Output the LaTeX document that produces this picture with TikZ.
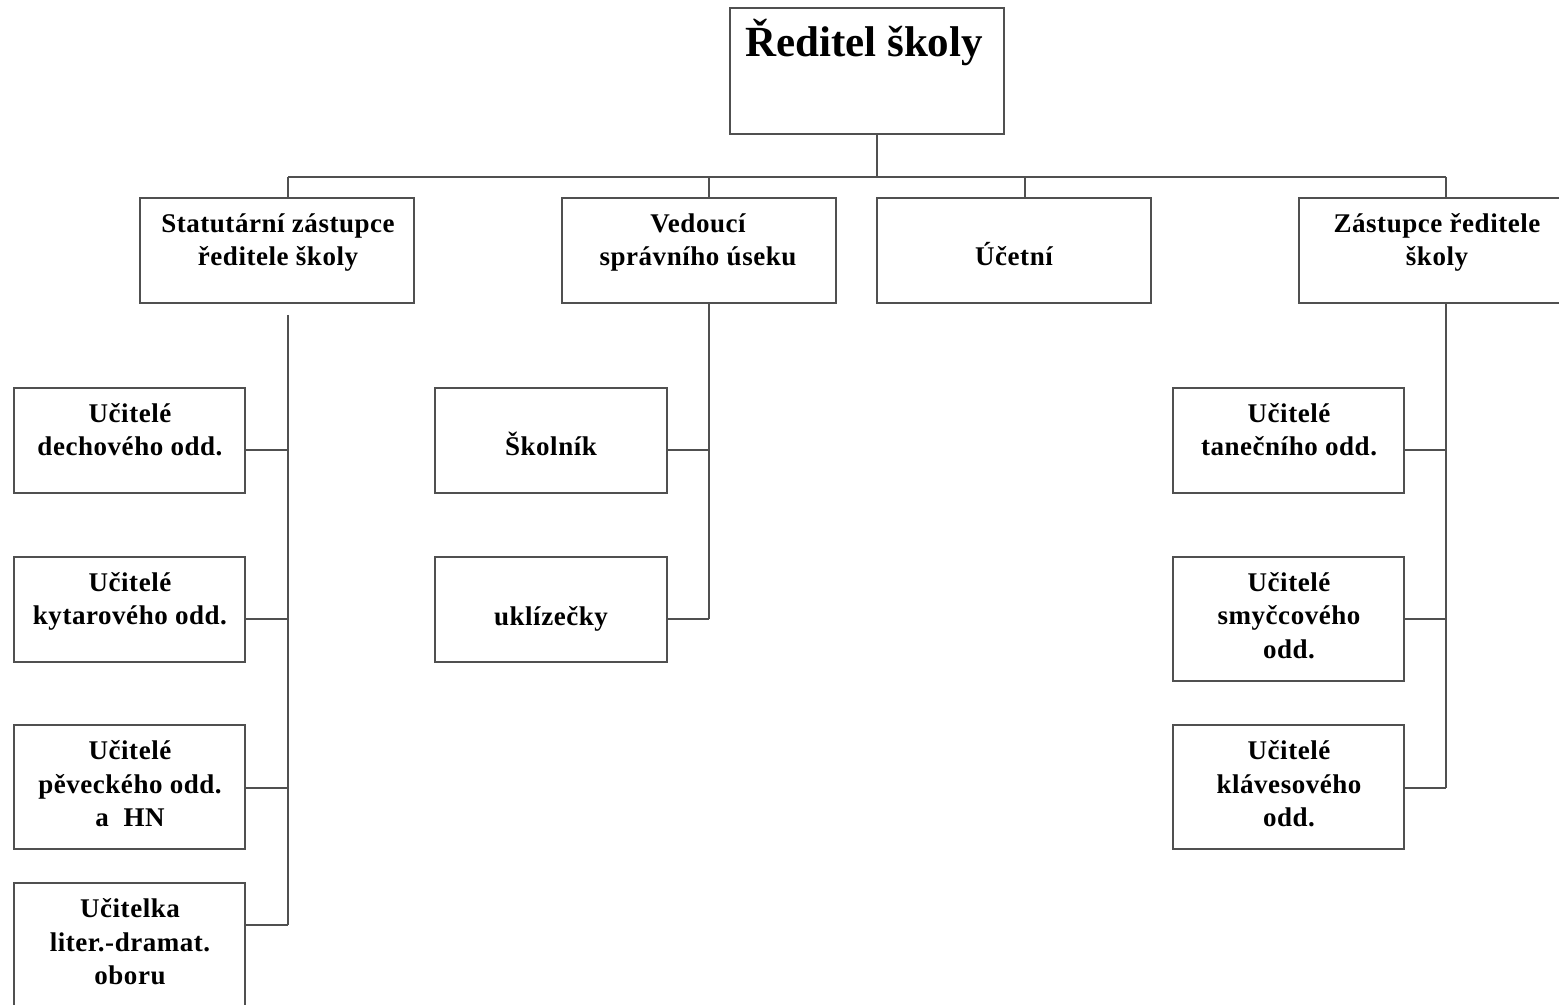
\documentclass[tikz,border=0pt]{standalone}
\usepackage{fontspec}
\setmainfont{Liberation Serif}
\newfontfamily\spacedserif{Liberation Serif}[LetterSpace=2]
\definecolor{lncol}{RGB}{80,80,80}
\newcommand\tl[1]{\begin{tabular}[t]{@{}c@{}}#1\end{tabular}}
\begin{document}
\begin{tikzpicture}[x=0.5pt,y=-0.5pt,
  ln/.style={draw=lncol,line width=0.75pt},
  box/.style={ln,rectangle,inner sep=0pt,outer sep=0pt,fill=white},
  bigbox/.style={box,minimum width=137pt,minimum height=52.5pt},
  smallbox/.style={box,minimum width=115.5pt,minimum height=52.5pt},
  tallbox/.style={box,minimum width=115.5pt,minimum height=62pt},
  lbl/.style={anchor=base,inner sep=0pt,outer sep=0pt,
    font=\fontsize{13.5}{16.75}\selectfont\spacedserif\bfseries},
  title/.style={anchor=base,inner sep=0pt,font=\fontsize{21.5}{26}\selectfont\bfseries}]
\useasboundingbox (0,0) rectangle (1559,1005);
\clip (0,0) rectangle (1559,1005);
\fill[white] (0,0) rectangle (1559,1005);

% boxes
\node[box,minimum width=137pt,minimum height=63pt] (top) at (867,71) {};
\node[bigbox] (A) at (277,250.5) {};
\node[bigbox] (B) at (699,250.5) {};
\node[bigbox] (C) at (1014,250.5) {};
\node[bigbox] (D) at (1436,250.5) {};
\node[smallbox] (L1) at (129.5,440.5) {};
\node[smallbox] (L2) at (129.5,609.5) {};
\node[tallbox] (L3) at (129.5,787) {};
\node[tallbox] (L4) at (129.5,945) {};
\node[smallbox,minimum width=116pt] (M1) at (551,440.5) {};
\node[smallbox,minimum width=116pt] (M2) at (551,609.5) {};
\node[smallbox] (R1) at (1288.5,440.5) {};
\node[tallbox] (R2) at (1288.5,619) {};
\node[tallbox] (R3) at (1288.5,787) {};

% texts
\node[title] (tTop) at (864,57) {Ředitel školy};
\node[lbl] (tA) at (278,232.5) {\tl{Statutární zástupce\\ředitele školy}};
\node[lbl] (tB) at (698,232.5) {\tl{Vedoucí\\správního úseku}};
\node[lbl] (tC) at (1014,266) {Účetní};
\node[lbl] (tD) at (1437,232.5) {\tl{Zástupce ředitele\\školy}};
\node[lbl] (tL1) at (130,422.5) {\tl{Učitelé\\dechového odd.}};
\node[lbl] (tL2) at (130,591.5) {\tl{Učitelé\\kytarového odd.}};
\node[lbl] (tL3) at (130,759.5) {\tl{Učitelé\\pěveckého odd.\\a~~HN}};
\node[lbl] (tL4) at (130,917.5) {\tl{Učitelka\\liter.-dramat.\\oboru}};
\node[lbl] (tM1) at (551,456) {Školník};
\node[lbl] (tM2) at (551,625) {uklízečky};
\node[lbl] (tR1) at (1289,422.5) {\tl{Učitelé\\tanečního odd.}};
\node[lbl] (tR2) at (1289,591.5) {\tl{Učitelé\\smyčcového\\odd.}};
\node[lbl] (tR3) at (1289,759.5) {\tl{Učitelé\\klávesového\\odd.}};

% connectors
\coordinate (bus) at (877,177);
\coordinate (sA) at (288,177);
\coordinate (sB) at (709,177);
\coordinate (sC) at (1025,177);
\coordinate (sD) at (1446,177);
\coordinate (vA) at (288,315);
\draw[ln] (top.south -| bus) -- (bus);
\draw[ln] (sA) -- (sD);
\draw[ln] (sA) -- (sA |- A.north);
\draw[ln] (sB) -- (sB |- B.north);
\draw[ln] (sC) -- (sC |- C.north);
\draw[ln] (sD) -- (sD |- D.north);

\draw[ln] (vA) -- (vA |- 0,925);
\draw[ln] (L1.east |- 0,450) -- (vA |- 0,450);
\draw[ln] (L2.east |- 0,619) -- (vA |- 0,619);
\draw[ln] (L3.east |- 0,788) -- (vA |- 0,788);
\draw[ln] (L4.east |- 0,925) -- (vA |- 0,925);

\draw[ln] (sB |- B.south) -- (sB |- 0,619);
\draw[ln] (M1.east |- 0,450) -- (sB |- 0,450);
\draw[ln] (M2.east |- 0,619) -- (sB |- 0,619);

\draw[ln] (sD |- D.south) -- (sD |- 0,788);
\draw[ln] (R1.east |- 0,450) -- (sD |- 0,450);
\draw[ln] (R2.east |- 0,619) -- (sD |- 0,619);
\draw[ln] (R3.east |- 0,788) -- (sD |- 0,788);
\end{tikzpicture}
\end{document}
